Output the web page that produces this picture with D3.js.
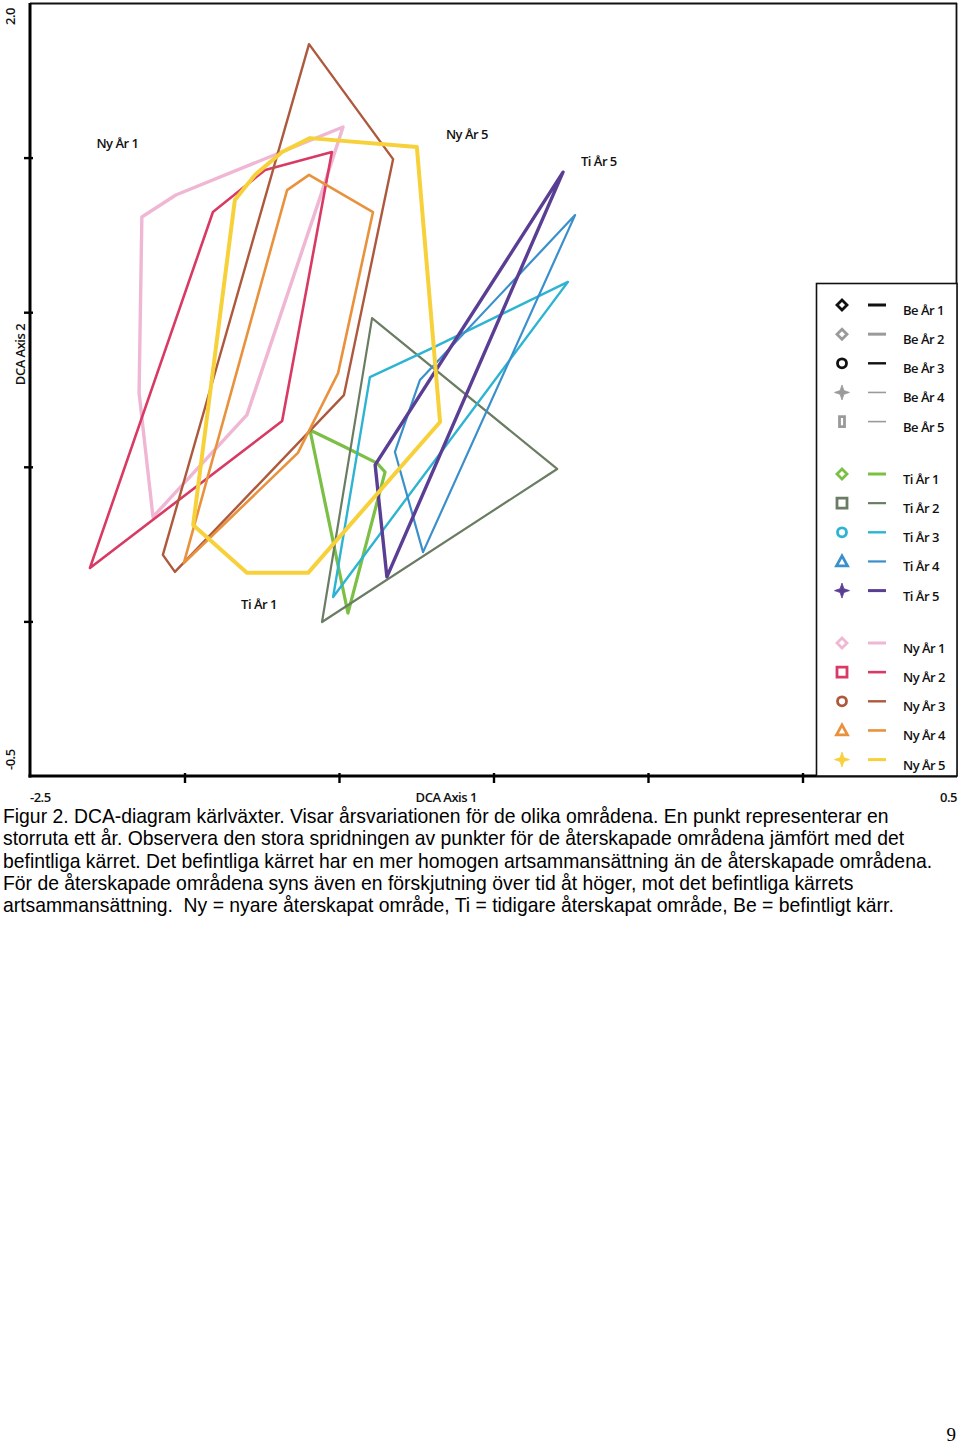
<!DOCTYPE html>
<html>
<head>
<meta charset="utf-8">
<script src="https://cdn.jsdelivr.net/npm/d3@7"></script>
<style>
  html, body { margin: 0; padding: 0; background: #fff; }
  svg { display: block; }
</style>
</head>
<body>
<svg id="chart" width="960" height="1444"></svg>
<script>
// ---------------- DATA (DCA Axis 1, DCA Axis 2) ----------------
const xDomain = [-2.5, 0.5];
const yDomain = [-0.5, 2.0];
const xTickValues = [-2.0, -1.5, -1.0, -0.5, 0.0];
const yTickValues = [1.5, 1.0, 0.5, 0.0];
const xEndLabels = ["-2.5", "0.5"];
const yEndLabels = ["2.0", "-0.5"];
const xAxisTitle = "DCA Axis 1";
const yAxisTitle = "DCA Axis 2";

const tiAr1 = [[-1.594, 0.619], [-1.481, 0.564], [-1.377, 0.512], [-1.351, 0.483], [-1.471, 0.027]];
const tiAr2 = [[-1.393, 0.981], [-0.794, 0.493], [-1.555, -0.002]];
const tiAr3 = [[-1.400, 0.790], [-1.199, 0.884], [-0.759, 1.098], [-1.519, 0.079]];
const tiAr4 = [[-0.736, 1.314], [-1.238, 0.781], [-1.319, 0.548], [-1.228, 0.224]];
const tiAr5 = [[-0.775, 1.453], [-1.383, 0.506], [-1.345, 0.144]];

const nyAr1 = [[-2.138, 1.308], [-2.028, 1.379], [-1.487, 1.599], [-1.562, 1.369], [-1.798, 0.668], [-2.102, 0.338], [-2.147, 0.739]];
const nyAr2 = [[-1.908, 1.324], [-1.739, 1.460], [-1.523, 1.518], [-1.684, 0.648], [-2.306, 0.173]];
const nyAr3 = [[-1.597, 1.867], [-1.325, 1.495], [-1.484, 0.732], [-2.031, 0.160], [-2.070, 0.215]];
const nyAr4 = [[-1.597, 1.444], [-1.390, 1.324], [-1.503, 0.803], [-1.633, 0.545], [-2.002, 0.189], [-1.668, 1.395]];
const nyAr5 = [[-1.837, 1.363], [-1.772, 1.444], [-1.684, 1.518], [-1.594, 1.563], [-1.248, 1.534], [-1.173, 0.645], [-1.600, 0.157], [-1.798, 0.157], [-1.972, 0.312]];

const plotSeries = ["Ti År 1", "Ti År 2", "Ti År 3", "Ti År 4", "Ti År 5", "Ny År 1", "Ny År 2", "Ny År 3", "Ny År 4", "Ny År 5"];
const plotPoints = [tiAr1, tiAr2, tiAr3, tiAr4, tiAr5, nyAr1, nyAr2, nyAr3, nyAr4, nyAr5];

const legendGroups = [
  ["Be År 1", "Be År 2", "Be År 3", "Be År 4", "Be År 5"],
  ["Ti År 1", "Ti År 2", "Ti År 3", "Ti År 4", "Ti År 5"],
  ["Ny År 1", "Ny År 2", "Ny År 3", "Ny År 4", "Ny År 5"]
];

const annotations = [
  { text: "Ny År 1", x: -2.285, y: 1.531 },
  { text: "Ny År 5", x: -1.154, y: 1.560 },
  { text: "Ti År 5", x: -0.717, y: 1.473 },
  { text: "Ti År 1", x: -1.817, y: 0.040 }
];

const captionLines = [
  "Figur 2. DCA-diagram kärlväxter. Visar årsvariationen för de olika områdena. En punkt representerar en",
  "storruta ett år. Observera den stora spridningen av punkter för de återskapade områdena jämfört med det",
  "befintliga kärret. Det befintliga kärret har en mer homogen artsammansättning än de återskapade områdena.",
  "För de återskapade områdena syns även en förskjutning över tid åt höger, mot det befintliga kärrets",
  "artsammansättning.  Ny = nyare återskapat område, Ti = tidigare återskapat område, Be = befintligt kärr."
];
const pageNumber = "9";

// ---------------- STYLES ----------------
const styles = {
  "Be År 1": { color: "#111111", marker: "diamond", lw: 3 },
  "Be År 2": { color: "#9a9a9a", marker: "diamond", lw: 3 },
  "Be År 3": { color: "#111111", marker: "circle", lw: 2.4 },
  "Be År 4": { color: "#9a9a9a", marker: "star", lw: 1.6 },
  "Be År 5": { color: "#9a9a9a", marker: "rect", lw: 1.6 },
  "Ti År 1": { color: "#7bbf45", marker: "diamond", lw: 3.2 },
  "Ti År 2": { color: "#6a7d63", marker: "square", lw: 2.2 },
  "Ti År 3": { color: "#2db4d2", marker: "circle", lw: 2.4 },
  "Ti År 4": { color: "#3b8fcb", marker: "triangle", lw: 2.2 },
  "Ti År 5": { color: "#5a3e94", marker: "star", lw: 3.4 },
  "Ny År 1": { color: "#efb7d3", marker: "diamond", lw: 3.4 },
  "Ny År 2": { color: "#d93a64", marker: "square", lw: 2.6 },
  "Ny År 3": { color: "#ad593d", marker: "circle", lw: 2.4 },
  "Ny År 4": { color: "#e8923d", marker: "triangle", lw: 2.6 },
  "Ny År 5": { color: "#f7d13a", marker: "star", lw: 4 }
};

// ---------------- CHART ----------------
const svg = d3.select("#chart");
const pLeft = 30, pRight = 957, pTop = 3, pBottom = 776;

const x = d3.scaleLinear().domain(xDomain).range([pLeft, pRight]);
const y = d3.scaleLinear().domain(yDomain).range([pBottom, pTop]);

const labelFont = "'Open Sans', 'DejaVu Sans', sans-serif";

// frame (top and right)
svg.append("line").attr("x1", pLeft).attr("x2", pRight).attr("y1", pTop + 0.5).attr("y2", pTop + 0.5)
  .attr("stroke", "#111").attr("stroke-width", 1.8);
svg.append("line").attr("x1", pRight - 0.5).attr("x2", pRight - 0.5).attr("y1", pTop).attr("y2", pBottom)
  .attr("stroke", "#111").attr("stroke-width", 1.8);

// polygons
const line = d3.line().x(d => x(d[0])).y(d => y(d[1])).curve(d3.curveLinearClosed);
svg.append("g").selectAll("path")
  .data(plotSeries.map((name, i) => ({ name, pts: plotPoints[i] })))
  .join("path")
  .attr("d", d => line(d.pts))
  .attr("fill", "none")
  .attr("stroke", d => styles[d.name].color)
  .attr("stroke-width", d => styles[d.name].lw)
  .attr("stroke-linejoin", "round")
  .attr("stroke-linecap", "round");

// axes
const yAxis = d3.axisLeft(y).tickValues(yTickValues).tickSize(0).tickFormat("");
const gy = svg.append("g").attr("transform", `translate(${pLeft},0)`).call(yAxis);
gy.select(".domain").attr("stroke", "#000").attr("stroke-width", 3).attr("d", `M0,${pTop}V${pBottom + 1.5}`);
gy.selectAll(".tick line").attr("x1", -6).attr("x2", 3).attr("stroke", "#000").attr("stroke-width", 2.4);

const xAxis = d3.axisBottom(x).tickValues(xTickValues).tickSize(0).tickFormat("");
const gx = svg.append("g").attr("transform", `translate(0,${pBottom})`).call(xAxis);
gx.select(".domain").attr("stroke", "#000").attr("stroke-width", 3).attr("d", `M${pLeft - 1.5},0H${pRight}`);
gx.selectAll(".tick line").attr("y1", -3).attr("y2", 7).attr("stroke", "#000").attr("stroke-width", 2.4);

// axis labels
const axisText = (sel) => sel.attr("font-family", labelFont).attr("font-weight", 600)
  .attr("font-size", 13).attr("fill", "#111").attr("letter-spacing", -0.5);

svg.append("text").call(axisText).attr("x", x(xDomain[0])).attr("y", 802).text(xEndLabels[0]);
svg.append("text").call(axisText).attr("x", pRight).attr("y", 802).attr("text-anchor", "end").text(xEndLabels[1]);
svg.append("text").call(axisText).attr("x", (x(-1.5) + x(-1.0)) / 2 + 30).attr("y", 802)
  .attr("text-anchor", "middle").text(xAxisTitle);

svg.append("text").call(axisText).attr("transform", `translate(15,${y(yDomain[1]) + 5}) rotate(-90)`)
  .attr("text-anchor", "end").text(yEndLabels[0]);
svg.append("text").call(axisText).attr("transform", `translate(15,${y(yDomain[0]) - 6}) rotate(-90)`)
  .attr("text-anchor", "start").text(yEndLabels[1]);
svg.append("text").call(axisText).attr("transform", `translate(25,${(y(1.0) + y(0.5)) / 2 - 35}) rotate(-90)`)
  .attr("text-anchor", "middle").text(yAxisTitle);

// in-plot annotations
svg.append("g").selectAll("text").data(annotations).join("text")
  .call(axisText)
  .attr("x", d => x(d.x)).attr("y", d => y(d.y)).text(d => d.text);

// legend
const legX = 816.5, legY = 283.5;
svg.append("rect").attr("x", legX).attr("y", legY).attr("width", pRight - legX).attr("height", pBottom - legY)
  .attr("fill", "#fff").attr("stroke", "#111").attr("stroke-width", 1.6);

const star4 = "M0,-7.5L1.9,-1.9L7.5,0L1.9,1.9L0,7.5L-1.9,1.9L-7.5,0L-1.9,-1.9Z";
function markerPath(type) {
  switch (type) {
    case "diamond": return "M0,-5L5,0L0,5L-5,0Z";
    case "square": return "M-5,-5H5V5H-5Z";
    case "circle": return d3.symbol(d3.symbolCircle, 64)();
    case "triangle": return "M0,-5.5L5.5,4.5H-5.5Z";
    case "star": return star4;
    case "rect": return "M-2.5,-5H2.5V5H-2.5Z";
  }
}

const rowStep = 29.15;
const groupStarts = [305, 474, 643];
const legRows = [];
legendGroups.forEach((g, gi) => g.forEach((name, i) => legRows.push({ name, cy: groupStarts[gi] + i * rowStep })));

const lg = svg.append("g").selectAll("g").data(legRows).join("g")
  .attr("transform", d => `translate(0,${d.cy})`);
lg.append("path")
  .attr("transform", "translate(842,0)")
  .attr("d", d => markerPath(styles[d.name].marker))
  .attr("fill", d => styles[d.name].marker === "star" ? styles[d.name].color : "none")
  .attr("stroke", d => styles[d.name].color)
  .attr("stroke-width", d => styles[d.name].marker === "star" ? 0.8 : 2.8);
lg.append("line").attr("x1", 868).attr("x2", 886).attr("y1", 0).attr("y2", 0)
  .attr("stroke", d => styles[d.name].color)
  .attr("stroke-width", d => Math.min(styles[d.name].lw, 3));
lg.append("text").call(axisText).attr("x", 903).attr("y", 10).text(d => d.name);

// caption
svg.append("g").selectAll("text").data(captionLines).join("text")
  .attr("x", 3).attr("y", (d, i) => 823 + i * 22.3)
  .attr("font-family", "'Liberation Sans', Arial, sans-serif").attr("font-size", 19.35).attr("fill", "#000")
  .attr("xml:space", "preserve").style("white-space", "pre")
  .text(d => d);

svg.append("text").attr("x", 956).attr("y", 1441).attr("text-anchor", "end")
  .attr("font-family", "'Liberation Serif', 'Times New Roman', serif").attr("font-size", 19).attr("fill", "#000")
  .text(pageNumber);
</script>
</body>
</html>
